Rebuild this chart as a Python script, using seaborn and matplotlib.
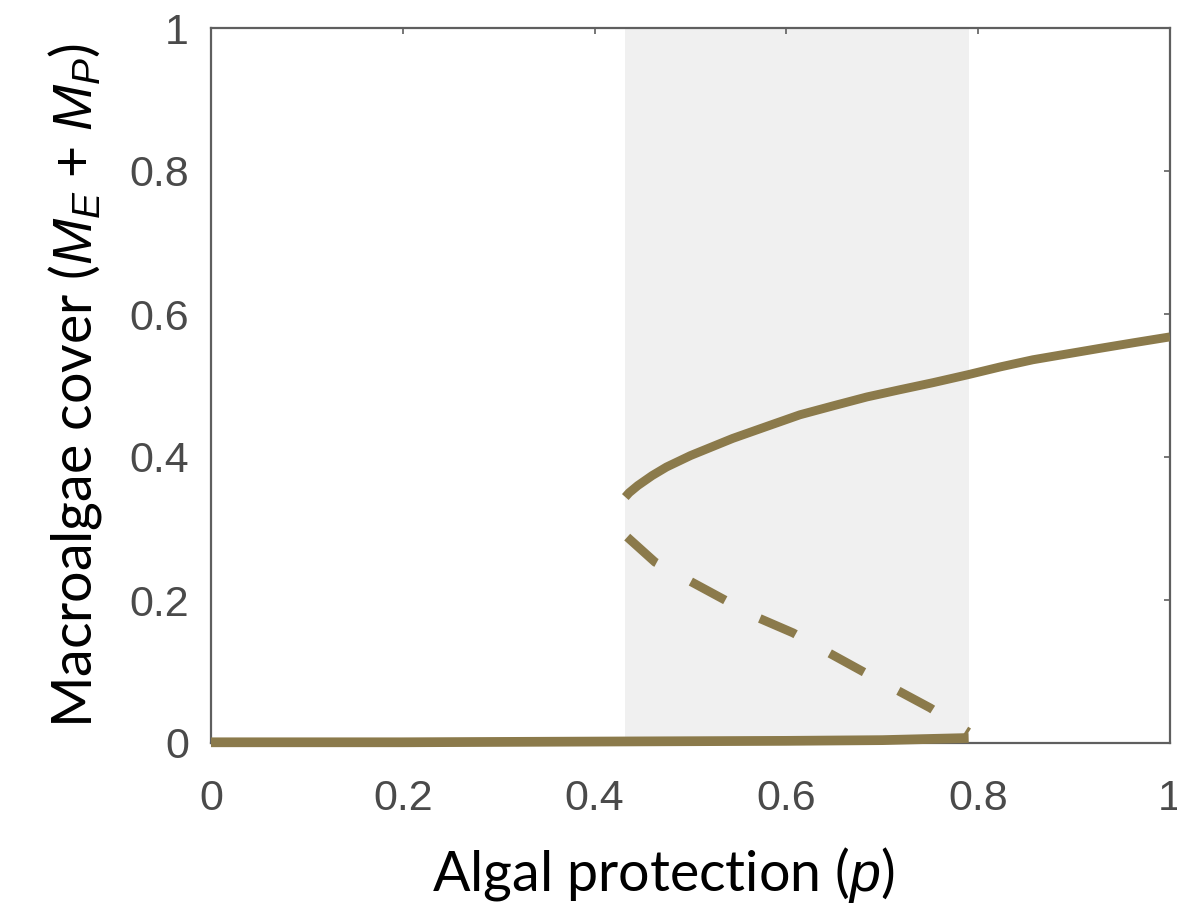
import numpy as np
import pandas as pd
import matplotlib
matplotlib.use("Agg")
import matplotlib.pyplot as plt
import seaborn as sns

# ---- data ----
p_upper = [0.432, 0.436, 0.445, 0.460, 0.475, 0.500, 0.544, 0.580, 0.614, 0.650,
           0.684, 0.718, 0.753, 0.789, 0.823, 0.857, 0.892, 0.927, 0.963, 1.000]
cover_upper = [0.344, 0.350, 0.360, 0.374, 0.386, 0.402, 0.426, 0.443, 0.459, 0.472,
               0.484, 0.494, 0.504, 0.515, 0.526, 0.536, 0.544, 0.552, 0.560, 0.568]

p_unstable = [0.434, 0.463, 0.500, 0.569, 0.607, 0.643, 0.700, 0.750, 0.790]
cover_unstable = [0.288, 0.253, 0.226, 0.176, 0.154, 0.127, 0.085, 0.049, 0.015]

p_lower = [0.0, 0.2, 0.4, 0.6, 0.7, 0.79]
cover_lower = [0.001, 0.001, 0.002, 0.003, 0.004, 0.007]

bistable_region = (0.432, 0.79)

x_ticks = [0, 0.2, 0.4, 0.6, 0.8, 1]
x_ticklabels = ["0", "0.2", "0.4", "0.6", "0.8", "1"]
y_ticks = [0, 0.2, 0.4, 0.6, 0.8, 1]
y_ticklabels = ["0", "0.2", "0.4", "0.6", "0.8", "1"]

# ---- style ----
sns.set_style("white")
plt.rcParams["font.family"] = ["Liberation Sans", "DejaVu Sans"]
plt.rcParams["mathtext.fontset"] = "custom"
plt.rcParams["mathtext.it"] = "Liberation Sans:italic"
plt.rcParams["mathtext.rm"] = "Lato"

line_color = "#8b7a4b"
shade_color = "#f0f0f0"
spine_color = "#5f5f5f"
tick_label_color = "#4a4a4a"

fig = plt.figure(figsize=(11.77, 9.17), dpi=100)
ax = fig.add_axes([211 / 1177, 1 - 743 / 917, (1170 - 211) / 1177, (743 - 28) / 917])

ax.axvspan(*bistable_region, color=shade_color, lw=0, zorder=0)

df_up = pd.DataFrame({"p": p_upper, "cover": cover_upper})
df_un = pd.DataFrame({"p": p_unstable, "cover": cover_unstable})
df_lo = pd.DataFrame({"p": p_lower, "cover": cover_lower})

sns.lineplot(data=df_up, x="p", y="cover", ax=ax, color=line_color, lw=6.4,
             estimator=None, sort=False, solid_capstyle="butt",
             solid_joinstyle="round", zorder=3)
sns.lineplot(data=df_un, x="p", y="cover", ax=ax, color=line_color, lw=6.4,
             estimator=None, sort=False, linestyle=(0, (4.4, 4.4)),
             dash_capstyle="butt", zorder=3)
sns.lineplot(data=df_lo, x="p", y="cover", ax=ax, color=line_color, lw=7,
             estimator=None, sort=False, solid_capstyle="butt", zorder=3,
             clip_on=False)

ax.set_xlim(0, 1)
ax.set_ylim(0, 1)
ax.set_xticks(x_ticks)
ax.set_xticklabels(x_ticklabels)
ax.set_yticks(y_ticks)
ax.set_yticklabels(y_ticklabels)

ax.tick_params(axis="both", direction="in", length=4, width=1.2, color=spine_color,
               labelsize=31, labelcolor=tick_label_color, top=True, right=True)
ax.tick_params(axis="x", pad=26)
ax.tick_params(axis="y", pad=16)

for s in ax.spines.values():
    s.set_visible(True)
    s.set_color(spine_color)
    s.set_linewidth(1.6)

ax.set_xlabel("Algal protection ($p$)", fontsize=40, family="Lato", labelpad=18, color="black")
ax.set_ylabel("Macroalgae cover ($M_E$ + $M_P$)", fontsize=40, family="Lato", labelpad=18, color="black")
ax.xaxis.set_label_coords(0.472, -0.142)

fig.savefig("out.png", dpi=100, facecolor="white")
